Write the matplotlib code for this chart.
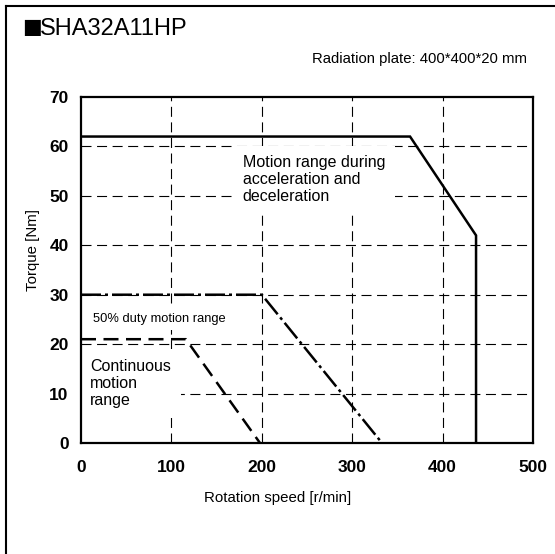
import matplotlib
matplotlib.use("Agg")
import matplotlib.pyplot as plt
from matplotlib.lines import Line2D

plt.rcParams['font.family'] = ['Liberation Sans', 'DejaVu Sans']

# Data
accel_speed = [0, 364, 437, 437]
accel_torque = [62, 62, 42, 0]
duty50_speed = [0, 200, 333]
duty50_torque = [30, 30, 0]
cont_speed = [0, 116, 198]
cont_torque = [21, 21, 0]
xticks = [0, 100, 200, 300, 400, 500]
yticks = [0, 10, 20, 30, 40, 50, 60, 70]

W, H = 555, 554
fig = plt.figure(figsize=(W / 100, H / 100), dpi=100)
L, R, T, B = 81, 533, 97, 443
ax = fig.add_axes([L / W, 1 - B / H, (R - L) / W, (B - T) / H])
ax.set_xlim(0, 500)
ax.set_ylim(0, 70)
ax.set_xticks(xticks)
ax.set_yticks(yticks)
ax.tick_params(length=0, labelsize=12.5)
ax.tick_params(axis='x', pad=12)
ax.tick_params(axis='y', pad=9)
for lab in ax.get_xticklabels() + ax.get_yticklabels():
    lab.set_fontweight('bold')
for s in ax.spines.values():
    s.set_linewidth(1.6)
    s.set_zorder(5)

# grid
for x in xticks[1:-1]:
    ax.axvline(x, color='black', lw=0.8, ls=(0, (9, 5)), zorder=1)
for y in yticks[1:-1]:
    ax.axhline(y, color='black', lw=0.8, ls=(0, (9, 5)), zorder=1)

ax.plot(accel_speed, accel_torque, color='black', lw=1.8, zorder=4, solid_joinstyle='miter')
ax.plot(duty50_speed, duty50_torque, color='black', lw=1.8, ls=(0, (8, 1.6, 1.2, 1.6)), zorder=4)
ax.plot(cont_speed, cont_torque, color='black', lw=1.8, ls=(0, (6, 3)), zorder=4)

box = dict(facecolor='white', edgecolor='none', pad=7)
ax.text(179, 58.2, "Motion range during\nacceleration and\ndeceleration", fontsize=11.5,
        va='top', ha='left', linespacing=1.17, bbox=box, zorder=3)
ax.text(13, 25.1, "50% duty motion range", fontsize=9.3, va='center', ha='left',
        bbox=dict(facecolor='white', edgecolor='none', pad=4), zorder=3)
ax.text(10, 17.0, "Continuous\nmotion\nrange", fontsize=11.5, va='top', ha='left',
        linespacing=1.17, bbox=box, zorder=3)

fig.text(0.5, 1 - 498 / H, "Rotation speed [r/min]", ha='center', va='center', fontsize=10.8)
fig.text(33 / W, 1 - 250 / H, "Torque [Nm]", ha='center', va='center', rotation=90, fontsize=10.8)
fig.text(22 / W, 1 - 27 / H, "■", ha='left', va='center', fontsize=15, family='DejaVu Sans')
fig.text(40 / W, 1 - 29 / H, "SHA32A11HP", ha='left', va='center', fontsize=17)
fig.text(527 / W, 1 - 59 / H, "Radiation plate: 400*400*20 mm", ha='right', va='center', fontsize=10.7)

# outer frame
fig.add_artist(Line2D([6 / W, 6 / W], [0, 1 - 6 / H], color='black', lw=1.5, transform=fig.transFigure))
fig.add_artist(Line2D([6 / W, 1], [1 - 6 / H, 1 - 6 / H], color='black', lw=1.5, transform=fig.transFigure))

fig.savefig("out.png", dpi=100)
